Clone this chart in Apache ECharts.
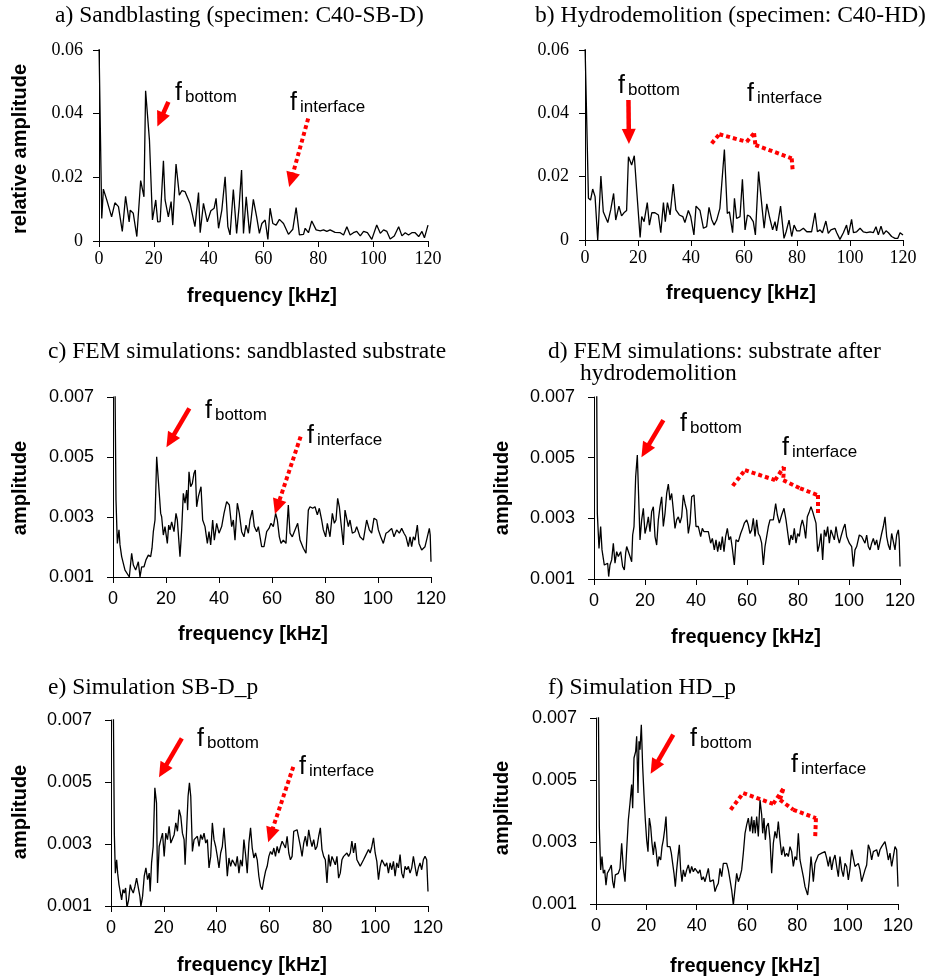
<!DOCTYPE html>
<html><head><meta charset="utf-8">
<script src="https://cdn.jsdelivr.net/npm/echarts@6/dist/echarts.min.js"></script>
<style>html,body{margin:0;padding:0;background:#fff}#main{width:940px;height:977px}</style>
</head><body><div id="main"></div>
<script>
// ---------------- data ----------------
const freqTickInterval = 20;            // x ticks 0..120
const relTicks = [0, 0.02, 0.04, 0.06]; // panels a, b
const ampTicks = [0.001, 0.003, 0.005, 0.007]; // panels c-f

const panelTitles = [
  'a) Sandblasting (specimen: C40-SB-D)',
  'b) Hydrodemolition (specimen: C40-HD)',
  'c) FEM simulations: sandblasted substrate',
  'd) FEM simulations: substrate after',
  'e) Simulation SB-D_p',
  'f) Simulation HD_p'
];
const titleD2 = 'hydrodemolition';
const xName = 'frequency [kHz]';
const yNameRel = 'relative amplitude';
const yNameAmp = 'amplitude';

// spectrum a (frequency kHz, relative amplitude)
const specA = [[0,0.062],[1.0,0.0071],[1.6,0.0163],[2.8,0.013],[4.6,0.0076],[5.8,0.012],[7.1,0.0108],[8.5,0.003],[9.7,0.014],[11.0,0.006],
[11.4,0.0097],[12.5,0.0087],[13.8,0.0014],[15.2,0.019],[16.4,0.0139],[17.0,0.0472],[18.4,0.0317],[19.5,0.0066],[20.7,0.0129],[21.4,0.006],
[22.3,0.0061],[23.5,0.0252],[24.1,0.0129],[25.3,0.0076],[26.3,0.0124],[26.9,0.005],[28.1,0.0242],[29.3,0.0144],[30.2,0.0158],[31.4,0.0155],
[33.2,0.0118],[35.0,0.0045],[36.3,0.0152],[36.9,0.0026],[38.1,0.0118],[39.5,0.006],[40.8,0.0095],[42.0,0.0103],[42.7,0.0134],[43.6,0.004],
[44.8,0.0097],[46.0,0.0202],[47.0,0.0045],[47.8,0.0019],[49.0,0.0162],[50.2,0.0024],[51.1,0.0108],[52.0,0.0223],[52.7,0.0024],[53.7,0.0139],
[54.9,0.0024],[56.3,0.0131],[57.5,0.0076],[58.5,0.0024],[59.4,0.0055],[60.6,0.0066],[61.6,0.0005],[62.4,0.0103],[63.4,0.0055],[64.6,0.005],
[65.8,0.0068],[67.3,0.0055],[69.1,0.0021],[70.7,0.0037],[71.9,0.0105],[73.1,0.0019],[74.6,0.0021],[75.2,0.004],[76.4,0.0026],[77.6,0.0063],
[79.2,0.0035],[80.7,0.0032],[81.9,0.0035],[83.1,0.003],[84.3,0.0035],[86.1,0.0027],[88.0,0.0026],[89.2,0.0019],[90.4,0.0045],[91.6,0.0019],
[92.8,0.0026],[94.0,0.003],[95.3,0.0016],[96.5,0.003],[97.9,0.0026],[99.5,0.0005],[101.3,0.005],[102.6,0.0024],[103.8,0.0035],[105.0,0.003],
[106.2,0.0006],[107.7,0.0016],[109.3,0.0045],[110.5,0.0016],[111.7,0.0026],[112.9,0.0019],[114.1,0.0026],[115.3,0.0026],[116.6,0.0014],[117.8,0.003],
[118.7,0.001],[120,0.005]];

// spectrum b
const specB = [[0,0.062],[1.3,0.0132],[2.1,0.0126],[2.9,0.0161],[3.8,0.0137],[4.8,0],[6.0,0.0202],[6.9,0.0089],[7.6,0.0084],[8.6,0.0055],
[9.7,0.0095],[10.8,0.0147],[11.6,0.0063],[12.8,0.0107],[13.8,0.0076],[14.7,0.0086],[15.7,0.0093],[16.4,0.0263],[17.6,0.0237],[18.6,0.0266],
[19.5,0.0158],[20.8,0.0008],[21.4,0.0074],[22.3,0.0058],[23.5,0.0118],[24.3,0.0047],[25.2,0.0086],[26.4,0.0086],[27.7,0.0079],[28.6,0.0023],
[29.6,0.0118],[30.3,0.0058],[31.1,0.0118],[32.1,0.0079],[33.3,0.0177],[34.3,0.0095],[35.6,0.0079],[36.9,0.0074],[37.7,0.0055],[39.0,0.0093],
[39.9,0.0074],[41.1,0.0016],[41.9,0.0107],[43.4,0.0093],[44.7,0.0037],[45.9,0.0042],[46.8,0.0103],[47.8,0.0065],[48.7,0.0047],[49.7,0.0063],
[50.9,0.01],[51.6,0.0105],[52.6,0.0286],[53.7,0.0084],[54.5,0.0089],[55.7,0.0023],[56.4,0.0132],[57.2,0.0068],[58.5,0.0074],[59.4,0.0192],
[60.4,0.0032],[61.3,0.0079],[62.3,0.0074],[63.5,0.0058],[64.3,0.0016],[65.5,0.0216],[66.9,0.0095],[67.6,0.0037],[68.6,0.0114],[69.6,0.0074],
[70.8,0.0032],[71.7,0.0058],[72.3,0.0029],[73.8,0.0107],[75.1,0.0005],[75.9,0.0026],[77.0,0.0063],[78.0,0.0011],[78.9,0.0047],[79.9,0.0029],
[81.1,0.0029],[82.4,0.0037],[83.7,0.0026],[85.5,0.0026],[86.8,0.0086],[87.7,0.0026],[88.7,0.0032],[89.6,0.0023],[90.9,0.006],[91.8,0.0021],
[92.8,0.0032],[94.3,0.0037],[95.0,0.0023],[96.2,0.0002],[97.5,0.0023],[98.7,0.0047],[99.4,0.0016],[100.6,0.0065],[101.3,0.0023],[102.5,0.0026],
[103.8,0.0037],[105.0,0.0026],[106.3,0.0023],[107.6,0.0026],[108.8,0.0023],[109.8,0.0042],[110.7,0.0016],[111.7,0.0044],[112.6,0.0018],[113.6,0.0029],
[114.5,0.0023],[115.7,0.0011],[117.0,0.0005],[118.0,0.0005],[118.9,0.0023],[120,0.0016]];

// spectrum c (FEM, sandblasted)
const specC = [[0.75,0.0075],[1.13,0.00357],[1.64,0.00212],[2.26,0.00257],[2.64,0.00207],[3.27,0.00168],[3.9,0.00162],[4.53,0.00123],[5.16,0.00118],[6.16,0.001],
[7.04,0.00179],[7.67,0.0014],[8.55,0.00123],[9.56,0.00151],[10.19,0.001],[10.82,0.00134],[11.7,0.00134],[12.45,0.00157],[13.33,0.00173],[14.21,0.00168],
[14.72,0.00196],[15.22,0.00251],[15.85,0.0029],[16.48,0.00501],[17.23,0.00496],[17.99,0.00312],[18.36,0.00301],[18.99,0.0024],[19.62,0.00268],[20.5,0.00212],
[21.01,0.00273],[21.51,0.00257],[22.14,0.00284],[23.02,0.00251],[23.77,0.00312],[24.28,0.0029],[25.28,0.00168],[25.91,0.00257],[26.54,0.00379],[27.17,0.00346],
[27.8,0.0039],[28.18,0.00323],[28.68,0.00451],[29.31,0.00401],[29.94,0.00412],[30.57,0.00446],[31.07,0.00457],[31.57,0.00334],[32.2,0.00368],[33.21,0.00401],
[33.84,0.0029],[34.72,0.00268],[35.6,0.00212],[36.23,0.00251],[36.86,0.00207],[37.61,0.0029],[38.24,0.00223],[39.12,0.00279],[40.0,0.00246],[41.01,0.00268],
[41.89,0.00312],[42.89,0.00351],[43.9,0.0034],[44.78,0.00268],[45.41,0.0029],[46.04,0.00223],[46.92,0.00346],[47.67,0.00312],[48.55,0.00251],[49.43,0.00234],
[50.19,0.00273],[51.07,0.00246],[51.7,0.0029],[52.58,0.00323],[53.33,0.00268],[54.21,0.00251],[54.84,0.00268],[56.1,0.00201],[56.98,0.00201],[57.99,0.00251],
[58.87,0.00262],[59.62,0.00279],[60.5,0.00268],[61.38,0.00312],[62.01,0.0029],[62.77,0.00234],[63.4,0.00212],[64.28,0.00223],[65.28,0.00212],[66.16,0.0034],
[66.79,0.00246],[67.67,0.00234],[68.68,0.00257],[69.69,0.00279],[70.57,0.00223],[71.82,0.00196],[72.83,0.00179],[73.71,0.00323],[74.34,0.00334],[75.35,0.00329],
[76.23,0.00334],[77.11,0.00307],[77.86,0.00329],[78.74,0.0029],[79.37,0.00257],[80.25,0.00234],[80.88,0.00279],[81.89,0.00234],[82.77,0.00312],[83.52,0.00279],
[84.15,0.0029],[84.78,0.00362],[85.41,0.00334],[86.04,0.00279],[86.92,0.00207],[87.55,0.00323],[88.18,0.00318],[88.81,0.00268],[89.43,0.0029],[90.31,0.00246],
[91.32,0.00251],[91.95,0.00268],[93.21,0.00234],[94.47,0.00223],[95.72,0.0029],[96.73,0.00257],[97.61,0.00246],[98.49,0.00296],[99.5,0.0029],[100.13,0.00257],
[101.01,0.00234],[102.01,0.00212],[103.02,0.00246],[103.9,0.00251],[105.16,0.00262],[106.04,0.00234],[107.04,0.00257],[108.05,0.00246],[108.93,0.00262],[109.81,0.00246],
[110.57,0.00234],[111.45,0.00201],[112.08,0.00234],[112.7,0.00201],[113.33,0.00234],[113.96,0.00223],[114.84,0.00273],[115.47,0.00212],[116.48,0.0019],[117.74,0.00201],
[118.62,0.00234],[119.37,0.00262],[119.7,0.0024],[120,0.00151]];

// spectrum d (FEM, hydrodemolition)
const specD = [[1.05,0.0075],[1.31,0.00316],[1.96,0.00201],[2.61,0.00273],[3.14,0.00196],[3.66,0.00201],[4.05,0.00146],[4.71,0.00152],[5.36,0.00152],[5.75,0.00108],
[6.27,0.00146],[6.93,0.00163],[7.58,0.00218],[8.24,0.00152],[8.89,0.0019],[9.54,0.00174],[10.46,0.0019],[11.24,0.00141],[11.9,0.0013],[12.42,0.00185],
[12.81,0.00207],[13.46,0.00212],[14.12,0.00174],[14.77,0.00157],[15.16,0.00245],[15.69,0.00273],[16.34,0.00437],[16.99,0.00509],[17.52,0.00514],[18.04,0.00229],
[18.69,0.00295],[19.35,0.00333],[20.0,0.0025],[20.65,0.00273],[21.31,0.00305],[21.96,0.00256],[22.61,0.00322],[23.27,0.00338],[23.92,0.0024],[24.58,0.00212],
[25.23,0.00295],[25.88,0.00338],[26.54,0.00371],[27.19,0.00273],[27.84,0.00316],[28.5,0.00382],[29.15,0.00413],[29.8,0.0036],[30.46,0.00382],[31.11,0.00327],
[31.76,0.00267],[32.42,0.00295],[33.07,0.00305],[33.73,0.00284],[34.38,0.00305],[35.03,0.00377],[35.69,0.00349],[36.34,0.00327],[36.99,0.0025],[37.65,0.00284],
[38.3,0.00371],[39.22,0.00377],[40.0,0.00273],[40.92,0.00273],[41.83,0.0024],[42.48,0.00267],[43.14,0.00256],[43.92,0.00256],[44.84,0.00256],[45.75,0.00218],
[46.41,0.00234],[47.19,0.00196],[47.84,0.00229],[48.5,0.0019],[49.15,0.00223],[49.67,0.00196],[50.33,0.0024],[50.98,0.0019],[51.63,0.0024],[52.29,0.00267],
[52.94,0.00229],[53.59,0.0024],[54.25,0.00201],[55.03,0.00146],[55.69,0.00229],[56.6,0.00223],[57.52,0.0025],[58.3,0.00267],[58.95,0.00284],[59.87,0.00295],
[60.52,0.00278],[61.18,0.0025],[61.83,0.00262],[62.48,0.003],[63.14,0.0024],[63.79,0.00295],[64.44,0.0025],[65.1,0.0024],[65.75,0.00218],[66.41,0.00146],
[67.06,0.00207],[67.71,0.0024],[68.37,0.00273],[69.02,0.00295],[69.67,0.00289],[70.33,0.00295],[71.24,0.00349],[71.9,0.00311],[72.68,0.00284],[73.59,0.00311],
[74.51,0.00333],[75.29,0.00295],[75.82,0.00262],[76.6,0.00212],[77.25,0.00245],[77.91,0.00229],[78.56,0.00267],[79.22,0.00218],[79.87,0.0025],[80.52,0.0024],
[81.05,0.00273],[81.7,0.00295],[82.35,0.00273],[83.01,0.00234],[83.66,0.00305],[84.44,0.00322],[85.1,0.00338],[85.75,0.00322],[86.41,0.00327],[87.06,0.00284],
[87.71,0.0019],[88.37,0.00212],[89.02,0.0025],[89.67,0.00163],[90.33,0.00262],[90.98,0.0024],[91.63,0.00273],[92.29,0.00218],[92.94,0.00262],[93.59,0.00267],
[94.25,0.00229],[94.9,0.00273],[95.56,0.0024],[96.21,0.00218],[96.86,0.0024],[97.78,0.00267],[98.43,0.00281],[99.08,0.0024],[100.13,0.00218],[101.05,0.00207],
[101.7,0.00141],[102.35,0.00196],[103.01,0.00207],[104.05,0.00245],[104.97,0.0024],[105.62,0.0024],[106.27,0.00218],[106.93,0.00245],[107.58,0.00207],[108.24,0.00196],
[108.89,0.00218],[109.54,0.00234],[110.2,0.00212],[110.85,0.00229],[111.5,0.00196],[112.16,0.00201],[112.81,0.0025],[113.46,0.00273],[114.12,0.00305],[114.77,0.0024],
[115.42,0.00212],[116.08,0.00196],[116.73,0.0025],[117.39,0.00223],[118.04,0.00196],[118.69,0.00245],[119.35,0.00262],[119.7,0.00229],[120,0.00141]];

// spectrum e (simulation SB-D_p)
const specE = [[0.88,0.0075],[1.26,0.00335],[1.64,0.00206],[2.14,0.00249],[2.52,0.00206],[3.02,0.00169],[3.52,0.00163],[4.03,0.0012],[4.53,0.00153],[5.03,0.00142],
[5.53,0.00158],[6.04,0.00095],[6.67,0.0012],[7.3,0.00169],[7.8,0.00153],[8.43,0.00142],[9.06,0.00163],[9.69,0.0019],[10.31,0.0019],[10.94,0.00131],
[11.32,0.00099],[11.95,0.00131],[12.58,0.00196],[13.21,0.00223],[13.84,0.00185],[14.47,0.00206],[14.84,0.00147],[15.35,0.00239],[15.97,0.00292],[16.6,0.00481],
[17.23,0.00432],[17.61,0.00174],[18.24,0.00292],[18.87,0.00314],[19.5,0.00335],[20.13,0.0026],[20.75,0.00335],[21.38,0.00314],[22.01,0.00357],[22.64,0.00303],
[23.27,0.00298],[23.9,0.0033],[24.53,0.00368],[25.16,0.00341],[25.79,0.00411],[26.42,0.00389],[27.04,0.00335],[27.67,0.00314],[28.05,0.00233],[28.68,0.00357],
[29.18,0.00454],[29.69,0.00497],[30.19,0.00454],[30.82,0.00276],[31.45,0.00314],[32.08,0.00314],[32.7,0.00325],[33.33,0.00292],[33.96,0.0033],[34.59,0.00314],
[35.22,0.00335],[35.85,0.00303],[36.48,0.00314],[37.11,0.00223],[37.74,0.0026],[38.36,0.00368],[38.99,0.00314],[39.62,0.00292],[40.25,0.0026],[40.88,0.00223],
[41.51,0.00271],[42.14,0.00292],[42.77,0.00352],[43.4,0.00282],[44.03,0.00196],[44.65,0.00255],[45.28,0.00228],[45.91,0.00249],[46.54,0.00239],[47.17,0.00228],
[47.8,0.0026],[48.43,0.00206],[49.06,0.00249],[49.69,0.00228],[50.31,0.00314],[50.94,0.00266],[51.57,0.00206],[52.2,0.00303],[52.83,0.00352],[53.46,0.00287],
[54.09,0.00255],[54.72,0.00271],[55.35,0.00249],[55.97,0.00196],[56.6,0.00163],[57.23,0.00153],[57.86,0.00185],[58.49,0.00212],[59.12,0.00228],[59.75,0.0026],
[60.38,0.00276],[61.01,0.00266],[61.64,0.00287],[62.26,0.0026],[62.89,0.00292],[63.52,0.00271],[64.15,0.00292],[64.78,0.00309],[65.41,0.00303],[66.04,0.00287],
[66.67,0.00325],[67.3,0.00271],[67.92,0.00249],[68.55,0.0026],[69.18,0.00341],[69.81,0.00346],[70.44,0.00346],[71.07,0.00341],[71.7,0.00292],[72.33,0.0026],
[72.96,0.00303],[73.58,0.00325],[74.21,0.00292],[74.84,0.00346],[75.47,0.00314],[76.1,0.00292],[76.73,0.00314],[77.36,0.00282],[77.99,0.00292],[78.62,0.00325],
[79.25,0.00352],[79.87,0.00282],[80.5,0.0026],[81.13,0.00249],[81.76,0.00174],[82.39,0.00266],[83.02,0.00228],[83.65,0.0026],[84.28,0.00266],[84.91,0.00233],
[85.53,0.0026],[86.16,0.0019],[86.79,0.00206],[87.42,0.00249],[88.05,0.0026],[88.68,0.00255],[89.31,0.00271],[89.94,0.0026],[90.57,0.00271],[91.19,0.00309],
[91.82,0.00271],[92.45,0.00303],[93.08,0.00249],[93.71,0.00239],[94.34,0.00228],[94.97,0.00223],[95.6,0.00249],[96.23,0.0026],[96.86,0.00255],[97.48,0.00282],
[98.11,0.00271],[98.74,0.00292],[99.37,0.0032],[100.0,0.00271],[100.63,0.00244],[101.26,0.00185],[101.89,0.00228],[102.52,0.00249],[103.14,0.00239],[103.77,0.00228],
[104.4,0.00239],[105.03,0.00206],[105.66,0.00239],[106.29,0.00217],[106.92,0.00244],[107.55,0.00196],[108.18,0.00239],[108.81,0.00223],[109.43,0.00266],[110.06,0.00206],
[110.69,0.0019],[111.32,0.00228],[111.95,0.00217],[112.58,0.00228],[113.21,0.00206],[113.84,0.00223],[114.47,0.0026],[115.09,0.00228],[115.72,0.00196],[116.35,0.00223],
[116.98,0.00239],[117.61,0.00217],[118.24,0.00249],[118.87,0.0026],[119.5,0.00249],[120,0.00147]];

// spectrum f (simulation HD_p)
const specF = [[0.93,0.0075],[1.32,0.0035],[1.85,0.0021],[2.38,0.00253],[2.91,0.00199],[3.44,0.0021],[3.97,0.00161],[4.5,0.00199],[5.03,0.00204],[5.56,0.00215],
[6.09,0.00226],[6.62,0.00172],[7.15,0.00151],[7.68,0.00194],[8.21,0.00199],[8.87,0.00199],[9.54,0.00215],[10.2,0.00296],[10.86,0.00215],[11.52,0.00172],
[12.19,0.00275],[12.85,0.00371],[13.51,0.00425],[14.17,0.00485],[14.57,0.00409],[15.1,0.00571],[15.76,0.00592],[16.16,0.00641],[16.69,0.00458],[17.09,0.00625],
[17.48,0.00598],[18.01,0.00678],[18.54,0.00544],[19.07,0.00452],[19.6,0.00371],[20.13,0.00307],[20.66,0.00269],[21.19,0.00377],[21.72,0.0035],[22.25,0.00296],
[22.78,0.00258],[23.31,0.00301],[23.84,0.00275],[24.5,0.00221],[25.03,0.00253],[25.7,0.00242],[26.23,0.00285],[26.75,0.00307],[27.28,0.00339],[27.81,0.00382],
[28.34,0.00285],[28.87,0.0028],[29.4,0.00285],[29.93,0.00264],[30.46,0.00231],[30.99,0.00199],[31.52,0.00156],[32.05,0.0021],[32.58,0.00253],[33.11,0.00291],
[33.64,0.0021],[34.17,0.00172],[34.7,0.0021],[35.36,0.00188],[36.03,0.0021],[36.69,0.00226],[37.35,0.00199],[38.01,0.00221],[38.68,0.00204],[39.34,0.00215],
[40.0,0.0021],[40.66,0.00199],[41.32,0.0021],[41.99,0.00178],[42.65,0.00188],[43.31,0.00172],[43.97,0.00178],[44.64,0.00215],[45.3,0.00172],[45.96,0.00167],
[46.62,0.00178],[47.28,0.0014],[47.95,0.00156],[48.61,0.00167],[49.27,0.00215],[49.93,0.00188],[50.6,0.00231],[51.26,0.00237],[51.92,0.00231],[52.58,0.0021],
[53.25,0.00178],[53.91,0.00145],[54.57,0.00097],[55.23,0.00102],[55.89,0.00199],[56.56,0.00172],[57.22,0.00188],[57.88,0.0021],[58.54,0.00264],[59.21,0.00328],
[59.87,0.00355],[60.53,0.00377],[61.19,0.00334],[61.85,0.00382],[62.25,0.00328],[62.78,0.00371],[63.31,0.00328],[63.84,0.00382],[64.5,0.00318],[65.17,0.00436],
[65.83,0.00388],[66.23,0.00328],[66.75,0.00377],[67.28,0.00307],[67.81,0.0035],[68.48,0.00361],[69.14,0.00307],[69.8,0.00199],[70.46,0.00296],[71.13,0.00334],
[71.79,0.00312],[72.45,0.00366],[73.11,0.00307],[73.77,0.00258],[74.44,0.00285],[75.1,0.00253],[75.76,0.00264],[76.42,0.00253],[77.09,0.00285],[77.75,0.00269],
[78.41,0.00221],[79.07,0.00253],[79.74,0.00242],[80.4,0.00328],[81.06,0.00242],[81.72,0.00237],[82.38,0.00188],[83.05,0.00156],[83.71,0.00151],[84.11,0.00129],
[84.77,0.00178],[85.43,0.00253],[85.96,0.0021],[86.36,0.00172],[87.02,0.00231],[87.68,0.00231],[88.34,0.00258],[89.01,0.00253],[89.67,0.00264],[90.33,0.00258],
[90.99,0.00269],[91.66,0.00248],[92.32,0.00221],[92.98,0.00253],[93.64,0.0021],[94.3,0.00242],[94.97,0.00258],[95.63,0.00221],[96.29,0.00188],[96.95,0.00253],
[97.62,0.0021],[98.28,0.00188],[98.94,0.00231],[99.6,0.00221],[100.26,0.00178],[100.93,0.00215],[101.59,0.00275],[102.25,0.00248],[102.91,0.00221],[103.58,0.00221],
[104.24,0.00231],[104.9,0.0021],[105.56,0.00172],[106.23,0.00178],[106.89,0.0021],[107.55,0.00226],[108.21,0.00291],[108.87,0.00275],[109.54,0.00242],[110.2,0.00269],
[110.86,0.00264],[111.52,0.00275],[112.19,0.00253],[112.85,0.00275],[113.51,0.00285],[114.17,0.00291],[114.83,0.00301],[115.5,0.00275],[116.16,0.00242],[116.82,0.00264],
[117.48,0.00221],[118.15,0.00253],[118.81,0.00285],[119.47,0.00275],[120,0.00156]];

// annotation anchors (data coordinates: [kHz, amplitude]); second point = arrow-head centre
const arrowBottomA = [[25.3,0.0437],[22.4,0.0381]];
const arrowIfaceA  = [[76.3,0.0385],[70.1,0.0192]];
const arrowBottomB = [[16.4,0.0442],[16.55,0.0327]];
const braceB = [[47.8,0.0305],[50.7,0.0334],[61.0,0.031],[63.8,0.0337],[64.3,0.03],[78.0,0.0258],[78.4,0.0216]];
const arrowBottomC = [[28.8,0.00662],[21.6,0.00554]];
const arrowIfaceC  = [[70.8,0.00568],[62.0,0.00334]];
const arrowBottomD = [[27.2,0.00624],[20.1,0.00523]];
const braceD = [[54.4,0.00407],[59.2,0.00459],[71.0,0.00426],[74.5,0.0047],[74.2,0.00426],[80.8,0.00399],[87.6,0.00377],[87.7,0.00317]];
const arrowBottomE = [[26.8,0.00641],[19.6,0.00536]];
const arrowIfaceE  = [[69.0,0.00549],[60.4,0.00329]];
const arrowBottomF = [[30.7,0.00646],[23.2,0.00541]];
const braceF = [[53.5,0.00404],[58.5,0.00458],[70.4,0.00423],[74.4,0.00471],[73.1,0.00436],[78.4,0.00404],[87.4,0.00377],[87.1,0.00317]];

// ---------------- chart ----------------
const SERIF = '"Liberation Serif","Times New Roman",serif';
const SANS = '"Liberation Sans",Arial,Helvetica,sans-serif';
const RED = '#ff0000';

function arrowLine(pts, dotted) {
  const ls = {color: RED, width: dotted ? 4 : 4.5, type: dotted ? [4, 3] : 'solid', cap: 'butt'};
  return [{coord: pts[0], symbol: 'none', lineStyle: ls},
          {coord: pts[1], symbol: 'triangle', symbolSize: [14, 15], lineStyle: ls}];
}
function braceLines(pts) {
  const ls = {color: RED, width: 4, type: [4, 3], cap: 'butt'};
  const out = [];
  for (let i = 0; i < pts.length - 1; i++) {
    out.push([{coord: pts[i], symbol: 'none', lineStyle: ls}, {coord: pts[i + 1], symbol: 'none', lineStyle: ls}]);
  }
  return out;
}

const panels = [
  {grid: {left: 99, top: 50, width: 329, height: 191}, data: specA, rel: true,
   marks: [arrowLine(arrowBottomA, false), arrowLine(arrowIfaceA, true)]},
  {grid: {left: 585, top: 50, width: 318, height: 190}, data: specB, rel: true,
   marks: [arrowLine(arrowBottomB, false)].concat(braceLines(braceB))},
  {grid: {left: 113, top: 397, width: 318, height: 180}, data: specC, rel: false,
   marks: [arrowLine(arrowBottomC, false), arrowLine(arrowIfaceC, true)]},
  {grid: {left: 594, top: 397, width: 306, height: 182}, data: specD, rel: false,
   marks: [arrowLine(arrowBottomD, false)].concat(braceLines(braceD))},
  {grid: {left: 111, top: 720, width: 317, height: 186}, data: specE, rel: false,
   marks: [arrowLine(arrowBottomE, false), arrowLine(arrowIfaceE, true)]},
  {grid: {left: 596, top: 718, width: 302, height: 186}, data: specF, rel: false,
   marks: [arrowLine(arrowBottomF, false)].concat(braceLines(braceF))}
];

const grid = [], xAxis = [], yAxis = [], series = [];
panels.forEach((p, i) => {
  grid.push(Object.assign({outerBoundsMode: 'none', containLabel: false}, p.grid));
  const fam = p.rel ? SERIF : SANS;
  xAxis.push({
    gridIndex: i, type: 'value', min: 0, max: 120, interval: freqTickInterval,
    axisLine: {show: true, onZero: false, lineStyle: {color: '#000', width: 1}},
    axisTick: {show: true, inside: false, length: 6, lineStyle: {color: '#000', width: 1}},
    axisLabel: {color: '#000', fontFamily: fam, fontSize: 18, margin: p.rel ? 9 : 13},
    splitLine: {show: false}
  });
  const y = {
    gridIndex: i, type: 'value',
    axisLine: {show: true, onZero: false, lineStyle: {color: '#000', width: 1}},
    axisTick: {show: true, inside: false, length: 6, lineStyle: {color: '#000', width: 1}},
    axisLabel: {color: '#000', fontFamily: fam, fontSize: 18, margin: p.rel ? 16 : 19},
    splitLine: {show: false}
  };
  if (p.rel) {
    y.min = relTicks[0]; y.max = relTicks[relTicks.length - 1]; y.interval = relTicks[1] - relTicks[0];
    y.axisLabel.formatter = v => (Math.abs(v) < 1e-9 ? '0' : v.toFixed(2));
  } else {
    y.min = ampTicks[0]; y.max = ampTicks[ampTicks.length - 1];
    y.axisLabel.customValues = ampTicks;
    y.axisTick.customValues = ampTicks;
    y.axisLabel.formatter = v => v.toFixed(3);
  }
  yAxis.push(y);
  series.push({
    type: 'line', xAxisIndex: i, yAxisIndex: i, data: p.data,
    showSymbol: false, symbol: 'none', clip: true, animation: false,
    lineStyle: {color: '#000', width: 1.3},
    markLine: {silent: true, animation: false, symbol: ['none', 'none'], label: {show: false},
               emphasis: {disabled: true}, data: p.marks}
  });
});

function txt(x, y, text, font, align, va, rot) {
  const el = {type: 'text', x: x, y: y, silent: true,
    style: {text: text, font: font, fill: '#000', align: align, verticalAlign: va}};
  if (rot) el.rotation = rot;
  return el;
}
function fLabel(x, yBottom, sub) {
  return {type: 'text', x: x, y: yBottom, silent: true,
    style: {text: '{f|f}{s|' + sub + '}', align: 'left', verticalAlign: 'bottom',
      rich: {f: {fontSize: 25, fontFamily: SANS, fill: '#000', verticalAlign: 'bottom'},
             s: {fontSize: 17, fontFamily: SANS, fill: '#000', verticalAlign: 'bottom', padding: [0, 0, 0, 3]}}}};
}
const TF = '23.5px ' + SERIF;
const AF = 'bold 20px ' + SANS;
const graphic = [
  txt(55, 16, panelTitles[0], TF, 'left', 'middle'),
  txt(535, 16, panelTitles[1], TF, 'left', 'middle'),
  txt(48, 352, panelTitles[2], TF, 'left', 'middle'),
  txt(548, 352, panelTitles[3], TF, 'left', 'middle'),
  txt(580, 374, titleD2, TF, 'left', 'middle'),
  txt(48, 688, panelTitles[4], TF, 'left', 'middle'),
  txt(548, 688, panelTitles[5], TF, 'left', 'middle'),
  txt(20, 149, yNameRel, AF, 'center', 'middle', Math.PI / 2),
  txt(20, 488, yNameAmp, AF, 'center', 'middle', Math.PI / 2),
  txt(502, 488, yNameAmp, AF, 'center', 'middle', Math.PI / 2),
  txt(20, 812, yNameAmp, AF, 'center', 'middle', Math.PI / 2),
  txt(502, 808, yNameAmp, AF, 'center', 'middle', Math.PI / 2),
  txt(262, 296, xName, AF, 'center', 'middle'),
  txt(741, 293, xName, AF, 'center', 'middle'),
  txt(253, 634, xName, AF, 'center', 'middle'),
  txt(746, 637, xName, AF, 'center', 'middle'),
  txt(252, 965, xName, AF, 'center', 'middle'),
  txt(745, 966, xName, AF, 'center', 'middle'),
  fLabel(175, 106, 'bottom'), fLabel(290, 116, 'interface'),
  fLabel(618, 99, 'bottom'), fLabel(747, 107, 'interface'),
  fLabel(205, 424, 'bottom'), fLabel(307, 449, 'interface'),
  fLabel(680, 437, 'bottom'), fLabel(782, 461, 'interface'),
  fLabel(197, 752, 'bottom'), fLabel(299, 780, 'interface'),
  fLabel(690, 752, 'bottom'), fLabel(791, 778, 'interface')
];

const chart = echarts.init(document.getElementById('main'), null, {renderer: 'canvas'});
chart.setOption({
  backgroundColor: '#fff', animation: false,
  grid: grid, xAxis: xAxis, yAxis: yAxis, series: series, graphic: graphic
});
</script>
</body></html>
